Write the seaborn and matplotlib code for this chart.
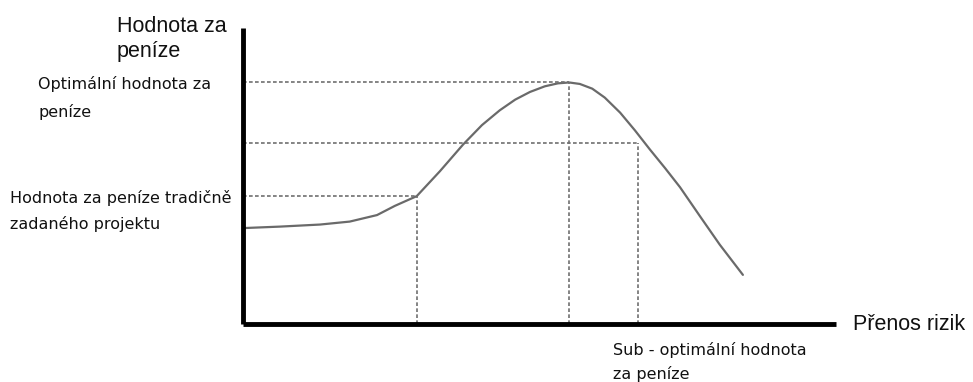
import matplotlib
matplotlib.use("Agg")
import matplotlib.pyplot as plt
import seaborn as sns
import pandas as pd

# value-for-money curve (x = risk transfer, y = value for money)
risk_transfer = [0, 6.2, 13.0, 18.0, 22.6, 25.6, 29.3, 33.2, 37.1, 40.3, 43.3, 45.9, 48.4,
                 50.9, 53.1, 55.0, 56.8, 58.9, 61.0, 63.6, 66.1, 68.6, 71.2, 73.7, 77.1, 80.4, 84.3]
value_money = [32.4, 32.9, 33.6, 34.6, 36.8, 39.9, 43.2, 51.6, 60.6, 67.2, 72.2, 75.8, 78.4,
               80.3, 81.3, 81.6, 81.1, 79.5, 76.5, 71.4, 65.4, 59.0, 52.6, 46.2, 36.3, 26.8, 16.6]

# reference points: traditional, optimal, sub-optimal
guide_names = ["tradicni", "optimalni", "suboptimalni"]
guide_x = [29.3, 55.0, 66.6]
guide_y = [43.2, 81.6, 61.1]

W, H = 973, 382

sns.set_style("white")
plt.rcParams["font.family"] = ["DejaVu Sans"]

fig = plt.figure(figsize=(W / 100, H / 100), dpi=100)
ax = fig.add_axes([243 / W, 1 - 324 / H, (836 - 243) / W, (324 - 28) / H])

df = pd.DataFrame({"x": risk_transfer, "y": value_money})
sns.lineplot(data=df, x="x", y="y", ax=ax, color="#6a6a6a", linewidth=1.6, sort=False)

dash = (0, (2.2, 1.4))
ax.hlines(guide_y, 0, guide_x, colors="#6f6f6f", linestyles=[dash], linewidth=1.2)
ax.vlines(guide_x, 0, guide_y, colors="#6f6f6f", linestyles=[dash], linewidth=1.2)

ax.set_xlim(0, 100)
ax.set_ylim(0, 100)
ax.set_xticks([])
ax.set_yticks([])
ax.set_xlabel("")
ax.set_ylabel("")
sns.despine(ax=ax)
for s in ["left", "bottom"]:
    ax.spines[s].set_linewidth(3.5)
    ax.spines[s].set_color("black")
    ax.spines[s].set_capstyle("butt")


def put(px, py, txt, size, family, **kw):
    fig.text(px / W, 1 - py / H, txt, fontsize=size, family=family, va="center", ha="left",
             color="#111111", **kw)


big = "Liberation Sans"
small = "DejaVu Sans"
put(117, 26, "Hodnota za", 15.5, big)
put(117, 51, "peníze", 15.5, big)
put(853, 325, "Přenos rizik", 15.5, big)

put(38, 84, "Optimální hodnota za", 11.5, small)
put(38, 112, "peníze", 11.5, small)
put(10, 198, "Hodnota za peníze tradičně", 11.5, small)
put(10, 224, "zadaného projektu", 11.5, small)
put(613, 350, "Sub - optimální hodnota", 11.5, small)
put(613, 374, "za peníze", 11.5, small)

fig.savefig("out.png", dpi=100)
